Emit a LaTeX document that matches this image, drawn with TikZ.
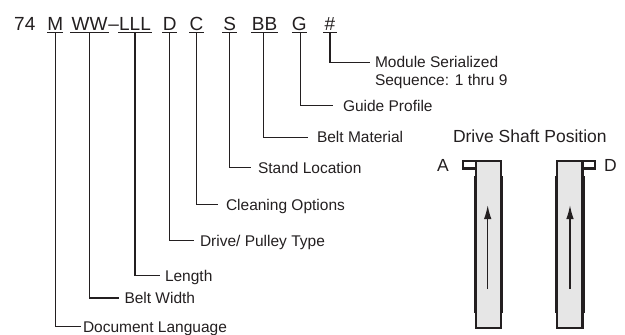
\documentclass[tikz,border=0pt]{standalone}
\usepackage{fontspec}
\setmainfont{Liberation Sans}
\usetikzlibrary{arrows.meta}
\definecolor{inktext}{HTML}{231F20}
\definecolor{beltgray}{HTML}{E6E6E6}
\tikzstyle{code}=[
    inner sep = 0pt,
    outer sep = 0pt,
    text height = 14pt,
    text depth = 2pt,
    font = \fontsize{19}{20}\selectfont,
    text = inktext
]
\tikzstyle{item}=[
    anchor = west,
    inner sep = 0pt,
    outer sep = 0pt,
    align = left,
    text height = 11pt,
    text depth = 0pt,
    font = \fontsize{15.5}{18}\selectfont,
    text = inktext
]
\tikzstyle{head}=[
    item,
    text height = 12.5pt,
    font = \fontsize{17.5}{20}\selectfont
]
\tikzstyle{lead}=[
    draw = inktext,
    line width = 1.3pt
]
\tikzstyle{frame}=[
    draw = inktext,
    line width = 2.4pt
]
\tikzstyle{bar}=[
    draw = inktext,
    line width = 3.6pt
]
\tikzstyle{travel}=[
    draw = inktext,
    line width = 1.5pt,
    -{Latex[length=14pt,width=7.5pt]}
]

\begin{document}
\begin{tikzpicture}[x=1pt, y=-1pt]
        \useasboundingbox (0,0) rectangle (625,335);

        \node[code] (pre) at (24.8,24.7) {74};
        \node[code, minimum width=15pt] (m) at (55.2,24.7) {M};
        \node[code, minimum width=38.7pt] (w) at (89.6,24.7) {WW};
        \node[code] (dash) at (113.7,24.7) {--};
        \node[code, minimum width=33.4pt] (l) at (135,24.7) {LLL};
        \node[code, minimum width=15pt] (d) at (169.8,24.7) {D};
        \node[code, minimum width=15pt] (c) at (196.5,24.7) {C};
        \node[code, minimum width=14.7pt] (s) at (229.6,24.7) {S};
        \node[code, minimum width=26.4pt] (b) at (264.5,24.7) {BB};
        \node[code, minimum width=14.7pt] (g) at (299.3,24.7) {G};
        \node[code, minimum width=13.4pt] (n) at (330,24.7) {\#};

        \node[item] (lang) at (83,326.8) {Document Language};
        \node[item] (width) at (124.5,298) {Belt Width};
        \node[item] (length) at (165,275.5) {Length};
        \node[item] (drive) at (200,240.5) {Drive/ Pulley Type};
        \node[item] (clean) at (226,204.7) {Cleaning Options};
        \node[item] (stand) at (258,167.7) {Stand Location};
        \node[item] (material) at (317,137.2) {Belt Material};
        \node[item] (guide) at (343,105.8) {Guide Profile};
        \node[item] (serial) at (375,80) {Module Serialized\\Sequence: 1 thru 9};

        \draw[lead] (m.south west) -- (m.south east);
        \draw[lead] (w.south west) -- (w.south east);
        \draw[lead] (l.south west) -- (l.south east);
        \draw[lead] (d.south west) -- (d.south east);
        \draw[lead] (c.south west) -- (c.south east);
        \draw[lead] (s.south west) -- (s.south east);
        \draw[lead] (b.south west) -- (b.south east);
        \draw[lead] (g.south west) -- (g.south east);
        \draw[lead] (n.south west) -- (n.south east);

        \draw[lead, shorten >=2pt] (m.south) |- (lang.west);
        \draw[lead, shorten >=5.5pt] (w.south) |- (width.west);
        \draw[lead, shorten >=5pt] (l.south) |- (length.west);
        \draw[lead, shorten >=6pt] (d.south) |- (drive.west);
        \draw[lead, shorten >=8pt] (c.south) |- (clean.west);
        \draw[lead, shorten >=7.3pt] (s.south) |- (stand.west);
        \draw[lead, shorten >=9.3pt] ([xshift=-1.2pt]b.south) |- (material.west);
        \draw[lead, shorten >=10pt] ([xshift=1pt]g.south) |- (guide.west);
        \draw[lead, shorten >=5pt] (n.south) |- ([yshift=17.7pt]serial.west);

        \node[head] (title) at (453,136) {Drive Shaft Position};
        \node[head] (a) at (437,165.5) {A};
        \node[head] (e) at (604,165.5) {D};

        \draw[frame, fill=beltgray] (476,161) rectangle (501,328);
        \draw[frame, fill=white] (462.8,161) rectangle (476,168.3);
        \draw[bar] (475.3,176) -- (475.3,313);
        \draw[bar] (501.4,176) -- (501.4,313);
        \draw[travel] (487.7,289) -- (487.7,205);

        \draw[frame, fill=beltgray] (557,161) rectangle (582.5,328);
        \draw[frame, fill=white] (582.5,161) rectangle (594.8,168.3);
        \draw[bar] (556.6,176) -- (556.6,313);
        \draw[bar] (583.2,176) -- (583.2,313);
        \draw[travel] (570,289) -- (570,205);

    \end{tikzpicture}
\end{document}
